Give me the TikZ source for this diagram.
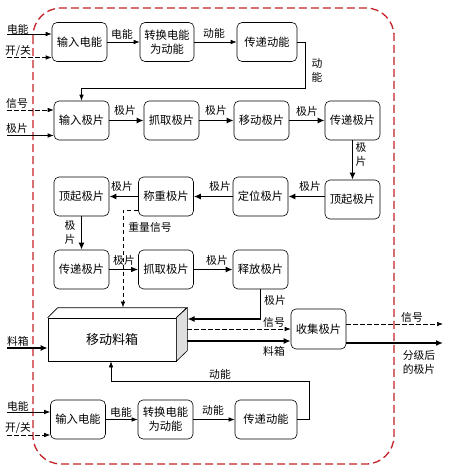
\documentclass[tikz,border=0pt]{standalone}
\usepackage{fontspec}
\setmainfont{Noto Sans CJK SC}
\usetikzlibrary{arrows.meta,calc}
\begin{document}
\begin{tikzpicture}[x=1pt,y=-1pt,
  blk/.style={draw, line width=0.6pt, rounded corners=5pt, minimum width=55pt, minimum height=39pt, inner sep=0pt, align=center, font=\fontsize{11.3}{14}\selectfont},
  lbl/.style={inner sep=0pt, align=center, font=\fontsize{10.8}{14}\selectfont},
  thinar/.style={line width=0.6pt, -{Latex[length=6pt,width=4.5pt]}},
  thkar/.style={line width=1.5pt, -{Latex[length=7pt,width=6pt]}},
  midar/.style={line width=1.1pt, -{Latex[length=7pt,width=5.5pt]}},
  dshar/.style={line width=0.6pt, dash pattern=on 4.5pt off 2.5pt, -{Latex[length=6pt,width=4.5pt]}},
]
\useasboundingbox (0,0) rectangle (450,474);
% border
\draw[color={rgb,255:red,195;green,35;blue,40}, line width=1.3pt, dash pattern=on 8pt off 4pt, rounded corners=28pt] (33,8) rectangle (394,464);

% row 1
\node[blk] (A1) at (79.5,42) {输入电能};
\node[blk, minimum width=54pt] (A2) at (167,42) {转换电能\\为动能};
\node[blk, minimum width=60pt] (A3) at (267,42) {传递动能};
\coordinate (a1) at (7,34);
\coordinate (a2) at (7,57.5);
\draw[thinar] (a1) -- (a1 -| A1.west);
\draw[dshar] (a2) -- (a2 -| A1.west);
\node[lbl] (la1) at (18,29) {电能};
\node[lbl] (la2) at (18,51) {开/关};
\draw[thinar] (A1) -- (A2);
\draw[thinar] (A2) -- (A3);
\node[lbl] (la3) at (122,34) {电能};
\node[lbl] (la4) at (214,33) {动能};
\coordinate (k1) at (305,88);
\node[lbl] (la5) at (317,70.5) {动\\能};

% row 2
\node[blk] (B1) at (81.5,120.5) {输入极片};
\node[blk] (B2) at (171.5,120.5) {抓取极片};
\node[blk] (B3) at (261.5,120.5) {移动极片};
\node[blk] (B4) at (352.5,120.5) {传递极片};
\draw[thinar] (A3.east) -| (k1) -| (B1.north);
\coordinate (b1) at (7,110);
\coordinate (b2) at (7,135.5);
\draw[dshar] (b1) -- (b1 -| B1.west);
\draw[thinar] (b2) -- (b2 -| B1.west);
\node[lbl] (lb1) at (17,103) {信号};
\node[lbl] (lb2) at (17,128) {极片};
\draw[thkar] (B1) -- (B2);
\draw[thkar] (B2) -- (B3);
\draw[thkar] (B3) -- (B4);
\node[lbl] (lb3) at (125,110) {极片};
\node[lbl] (lb4) at (216,110) {极片};
\node[lbl] (lb5) at (307,111) {极片};

% row 3
\node[blk] (C4) at (352.5,199.5) {顶起极片};
\node[blk] (C3) at (260.5,196.5) {定位极片};
\node[blk] (C2) at (166,196.5) {称重极片};
\node[blk] (C1) at (81.5,196.5) {顶起极片};
\draw[thkar] (B4.south) -- (C4.north);
\node[lbl] (lc0) at (361,154) {极\\片};
\draw[thkar] (C4.west |- C3) -- (C3.east);
\draw[thkar] (C3) -- (C2);
\draw[thkar] (C2) -- (C1);
\node[lbl] (lc1) at (310,186) {极片};
\node[lbl] (lc2) at (220,186) {极片};
\node[lbl] (lc3) at (122,186) {极片};
\node[lbl] (lc4) at (70,232) {极\\片};
\node[lbl] (lc5) at (150,227) {重量信号};

% row 4
\node[blk] (D1) at (81.5,269.5) {传递极片};
\node[blk] (D2) at (166,269.5) {抓取极片};
\node[blk] (D3) at (260.5,269.5) {释放极片};
\draw[thkar] (C1.south) -- (D1.north);
\draw[midar] (D1) -- (D2);
\draw[thkar] (D2) -- (D3);
\node[lbl] (ld1) at (124,260) {极片};
\node[lbl] (ld2) at (217,260) {极片};

% moving box
\node[draw, line width=0.6pt, minimum width=128pt, minimum height=43pt, inner sep=0pt, font=\fontsize{13}{15}\selectfont] (M) at (112,339.5) {移动料箱};
\draw[line width=0.6pt] (M.north west) -- ++(10,-10) -- ++(129,0) -- (M.north east);
\draw[line width=0.6pt, fill=gray!25] (M.north east) -- ++(11,-10) -- ++(0,43) -- (M.south east) -- cycle;

\coordinate (w) at (123,210);
\coordinate (wt) at (123,307.5);
\draw[dshar] (C2.west |- w) -- (w) -- (wt);

\coordinate (mr) at (187.5,319);
\draw[thkar] (D3.south) |- (mr);
\node[lbl] (ld3) at (275,300) {极片};

\coordinate (mi) at (7,348);
\draw[thkar] (mi) -- (mi -| M.west);
\node[lbl] (lm1) at (18,341) {料箱};

% collect
\node[blk, minimum height=40pt] (E) at (318.5,329) {收集极片};
\coordinate (ms) at (187,329);
\coordinate (mb) at (187,341);
\draw[dshar] (ms) -- (ms -| E.west);
\draw[thkar] (mb) -- (mb -| E.west);
\node[lbl] (le1) at (274,322) {信号};
\node[lbl] (le2) at (274,351) {料箱};
\coordinate (o1) at (443,324);
\coordinate (o2) at (443,343);
\draw[dshar] (o1 -| E.east) -- (o1);
\draw[thkar] (o2 -| E.east) -- (o2);
\node[lbl] (le3) at (412,317) {信号};
\node[lbl] (le4) at (419,362) {分级后\\的极片};

% bottom row
\node[blk] (F1) at (78,419.5) {输入电能};
\node[blk] (F2) at (165.5,419.5) {转换电能\\为动能};
\node[blk, minimum width=62pt] (F3) at (266,419.5) {传递动能};
\coordinate (f1) at (7,412);
\coordinate (f2) at (7,435);
\draw[thinar] (f1) -- (f1 -| F1.west);
\draw[dshar] (f2) -- (f2 -| F1.west);
\node[lbl] (lf1) at (18,406) {电能};
\node[lbl] (lf2) at (18,428) {开/关};
\draw[thinar] (F1) -- (F2);
\draw[thinar] (F2) -- (F3);
\node[lbl] (lf3) at (121,412) {电能};
\node[lbl] (lf4) at (213,410) {动能};
\coordinate (k2) at (309,381);
\coordinate (k3) at (111,381);
\draw[thinar] (F3.east) -| (k2) -- (k3) -- (k3 |- M.south);
\node[lbl] (lf5) at (220,374) {动能};
\end{tikzpicture}
\end{document}
